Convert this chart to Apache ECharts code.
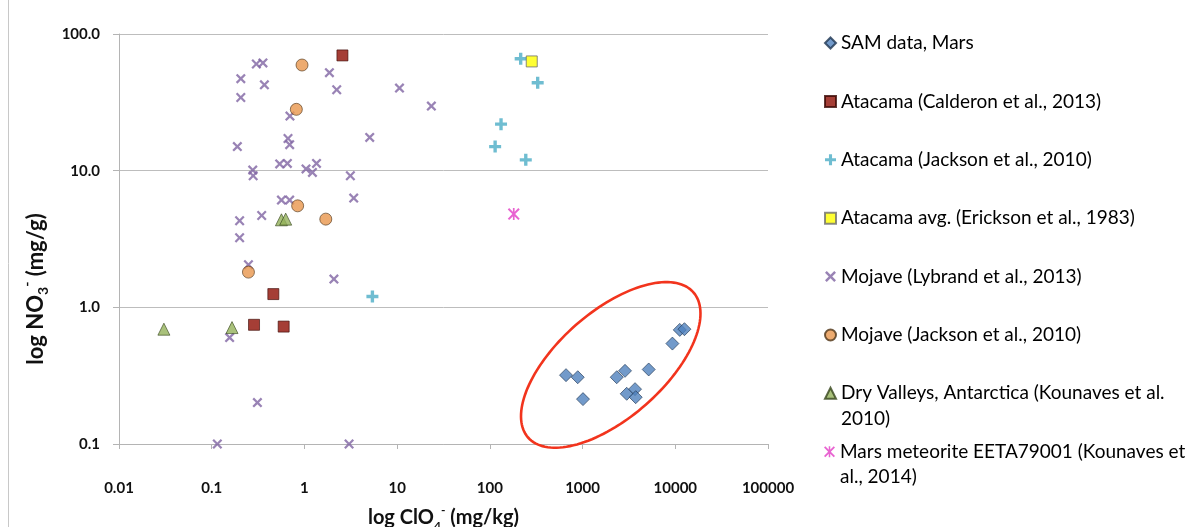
<!DOCTYPE html>
<html><head><meta charset="utf-8">
<script src="https://cdn.jsdelivr.net/npm/echarts@6/dist/echarts.min.js"></script>
<style>html,body{margin:0;padding:0;background:#fff}#c{width:1199px;height:527px}</style>
</head><body><div id="c"></div>
<script>
// ---- tick labels ----
const xTickLabels = ['0.01','0.1','1','10','100','1000','10000','100000'];
const yTickLabels = ['0.1','1.0','10.0','100.0'];

// ---- series names ----
const seriesNames = [
  'SAM data, Mars',
  'Atacama (Calderon et al., 2013)',
  'Atacama (Jackson et al., 2010)',
  'Atacama avg. (Erickson et al., 1983)',
  'Mojave (Lybrand et al., 2013)',
  'Mojave (Jackson et al., 2010)',
  'Dry Valleys, Antarctica (Kounaves et al. 2010)',
  'Mars meteorite EETA79001 (Kounaves et al., 2014)'
];
const wrappedLegendLabels = [
  'Dry Valleys, Antarctica (Kounaves et al.\n2010)',
  'Mars meteorite EETA79001 (Kounaves et\nal., 2014)'
];

// ---- data: [ClO4 mg/kg, NO3 mg/g] ----
const samMars = [[663,0.319],[887,0.308],[1011,0.213],[2336,0.308],[2870,0.343],[2993,0.233],
  [3680,0.252],[3743,0.220],[5168,0.351],[9310,0.543],[11170,0.684],[12550,0.692]];
const atacamaCalderon = [[2.57,69.7],[0.462,1.25],[0.286,0.745],[0.597,0.723]];
const atacamaJackson = [[215,65.9],[328,44.0],[132,21.9],[114,15.0],[244,12.0],[5.41,1.20]];
const atacamaErickson = [[283,63.0]];
const mojaveLybrand = [[0.303,60.3],[0.357,61.4],[0.206,47.1],[0.370,42.5],[0.206,34.3],[1.86,52.1],
  [2.23,39.1],[10.6,40.2],[23.4,29.7],[0.698,25.1],[0.665,17.2],[0.693,15.5],[0.189,15.0],[5.06,17.5],
  [0.277,10.1],[0.280,9.18],[0.541,11.2],[0.655,11.3],[1.04,10.3],[1.22,9.70],[1.35,11.3],[3.13,9.18],
  [3.40,6.30],[0.565,6.09],[0.693,6.09],[0.346,4.70],[0.200,4.30],[0.200,3.23],[0.249,2.05],[2.08,1.61],
  [0.156,0.601],[0.311,0.201],[0.115,0.1],[3.03,0.1]];
const mojaveJackson = [[0.942,59.3],[0.818,28.1],[0.845,5.53],[1.70,4.42],[0.249,1.81]];
const dryValleys = [[0.565,4.37],[0.628,4.42],[0.0305,0.692],[0.1656,0.711]];
const marsMeteorite = [[181,4.81]];
// highlighted SAM cluster (annotation centre)
const ellipseCenter = [[2013,0.379]];

const plusPath = 'path://M3.6,0H6.4V3.6H10V6.4H6.4V10H3.6V6.4H0V3.6H3.6Z';
const xPath = 'path://M1.6,0L5,3.4L8.4,0L10,1.6L6.6,5L10,8.4L8.4,10L5,6.6L1.6,10L0,8.4L3.4,5L0,1.6Z';
const starPath = 'path://M1.2,0L5,3.8L8.8,0L10,1.2L6.2,5L10,8.8L8.8,10L5,6.2L1.2,10L0,8.8L3.8,5L0,1.2Z M4.3,0H5.7V10H4.3Z';

const FONT = 'Lato';
const chart = echarts.init(document.getElementById('c'), null, {renderer:'canvas'});

function sc(name, data, symbol, size, style){
  return {type:'scatter', name, data, symbol, symbolSize:size, itemStyle:style,
    emphasis:{disabled:true}, z:3};
}
function titleRich(size){
  const base = {fontFamily:FONT, fontWeight:'bold', color:'#111', lineHeight:size+8};
  return {
    n:Object.assign({fontSize:size}, base),
    sub:Object.assign({fontSize:Math.round(size*0.62), verticalAlign:'bottom'}, base),
    sup:Object.assign({fontSize:Math.round(size*0.62), verticalAlign:'top'}, base)
  };
}

const legendText = {fontFamily:FONT, fontSize:19, color:'#000'};

const option = {
  animation:false,
  backgroundColor:'#fff',
  grid:{left:119, right:431, top:34, bottom:83, containLabel:false, outerBoundsMode:'none'},
  xAxis:{
    type:'log', logBase:10, min:0.01, max:100000, splitNumber:7,
    axisLine:{show:true, onZero:false, lineStyle:{color:'#b4b4b4', width:1}},
    axisTick:{show:true, length:5, lineStyle:{color:'#b4b4b4'}},
    minorTick:{show:false}, splitLine:{show:false},
    axisLabel:{margin:37, fontFamily:FONT, fontWeight:'bold', fontSize:15, color:'#111',
      formatter:v=>xTickLabels[Math.round(Math.log10(v))+2]},
    name:'{n|log ClO}{sub|4}{sup|-}{n| (mg/kg)}',
    nameLocation:'middle', nameGap:60,
    nameTextStyle:{rich:titleRich(20)}
  },
  yAxis:{
    type:'log', logBase:10, min:0.1, max:100, splitNumber:3,
    axisLine:{show:true, onZero:false, lineStyle:{color:'#b4b4b4', width:1}},
    axisTick:{show:true, length:6, lineStyle:{color:'#b4b4b4'}},
    minorTick:{show:false},
    splitLine:{show:true, lineStyle:{color:'#bdbdbd', width:1}},
    axisLabel:{margin:19, fontFamily:FONT, fontWeight:'bold', fontSize:15, color:'#111',
      formatter:v=>yTickLabels[Math.round(Math.log10(v))+1]},
    name:'{n|log NO}{sub|3}{sup|-}{n| (mg/g)}',
    nameLocation:'middle', nameGap:67,
    nameTextStyle:{padding:[0,100,0,0], rich:titleRich(22)}
  },
  legend:[
    {orient:'vertical', left:824, top:33, padding:0, itemWidth:11, itemHeight:11, itemGap:38.4,
      selectedMode:false, data:seriesNames.slice(0,6), textStyle:Object.assign({lineHeight:20}, legendText)},
    {orient:'vertical', left:824, top:355, padding:0, itemWidth:11, itemHeight:11,
      selectedMode:false, data:[seriesNames[6]],
      formatter:()=>'\n'+wrappedLegendLabels[0],
      textStyle:Object.assign({lineHeight:25.5}, legendText)},
    {orient:'vertical', left:824, top:413.5, padding:0, itemWidth:11, itemHeight:11,
      selectedMode:false, data:[seriesNames[7]],
      formatter:()=>'\n'+wrappedLegendLabels[1],
      textStyle:Object.assign({lineHeight:25.5}, legendText)}
  ],
  graphic:[
    {type:'line', shape:{x1:8.5, y1:0, x2:8.5, y2:527}, style:{stroke:'#c8c8c8', lineWidth:1}, silent:true}
  ],
  series:[
    {type:'custom', name:'highlight', coordinateSystem:'cartesian2d', data:ellipseCenter, silent:true, clip:false, z:2,
      renderItem:(p, api)=>{
        const c = api.coord([api.value(0), api.value(1)]);
        const a = 110, b = 53, th = 41.3*Math.PI/180;
        const pts = [];
        for (let i=0;i<=144;i++){
          const t = i/144*2*Math.PI;
          const ex = a*Math.cos(t), ey = b*Math.sin(t);
          pts.push([c[0] + ex*Math.cos(th) - ey*Math.sin(th), c[1] - (ex*Math.sin(th) + ey*Math.cos(th))]);
        }
        return {type:'polyline', shape:{points:pts}, style:{fill:null, stroke:'#f2341d', lineWidth:2.6}};
      }},
    sc(seriesNames[0], samMars, 'diamond', 13, {color:'#4f81bd', borderColor:'#1e3450', borderWidth:0.8}),
    sc(seriesNames[1], atacamaCalderon, 'rect', 11, {color:'#8f0e04', borderColor:'#3a0804', borderWidth:0.8}),
    sc(seriesNames[2], atacamaJackson, plusPath, 12, {color:'#4bacc6'}),
    sc(seriesNames[3], atacamaErickson, 'rect', 11, {color:'#ffff00', borderColor:'#6e6e6e', borderWidth:1}),
    sc(seriesNames[4], mojaveLybrand, xPath, 10, {color:'#8064a2'}),
    sc(seriesNames[5], mojaveJackson, 'circle', 12, {color:'#e8964c', borderColor:'#4e3418', borderWidth:0.8}),
    sc(seriesNames[6], dryValleys, 'triangle', 12, {color:'#94b25a', borderColor:'#36451c', borderWidth:0.8}),
    sc(seriesNames[7], marsMeteorite, starPath, 12, {color:'#e23dc6'})
  ]
};
chart.setOption(option);
</script>
</body></html>
